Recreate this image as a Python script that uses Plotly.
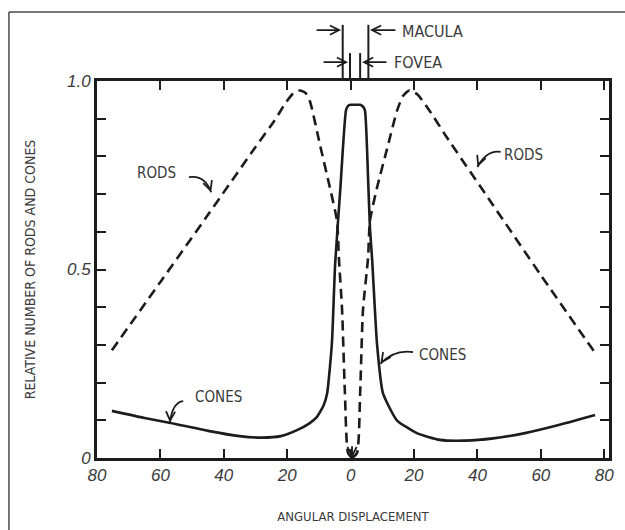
import plotly.graph_objects as go

# ---------------- data ----------------
rods_left_x = [-75.3, -60, -45, -30, -24, -20.5, -18, -16, -14.2, -12.8, -9.65, -6.5, -4.3, -3.7, -2.7, -1.8, -0.8, 0.45]
rods_left_y = [0.286, 0.467, 0.645, 0.825, 0.895, 0.942, 0.968, 0.975, 0.968, 0.945, 0.83, 0.716, 0.629, 0.531, 0.393, 0.172, 0.013, 0.0]

rods_right_x = [0.45, 2.0, 3.0, 3.9, 5.5, 6.1, 8.3, 11.8, 14.6, 16.5, 18.5, 21, 25, 30, 45, 60, 77.0]
rods_right_y = [0.0, 0.013, 0.172, 0.393, 0.531, 0.629, 0.716, 0.83, 0.92, 0.96, 0.975, 0.965, 0.92, 0.855, 0.67, 0.485, 0.28]

cones_x = [-75.3, -65, -56.8, -45, -35, -28, -22, -16.9, -13, -10.6, -8.5, -7.4, -5.9, -4.9, -3.2, -1.45,
           -0.8, 0.0, 1.5, 3.0, 3.8, 4.5, 5.5, 6.1, 6.8, 8.3, 10.2, 14.6, 20.9, 28.2, 36, 45, 55, 65, 77.1]
cones_y = [0.125, 0.106, 0.093, 0.072, 0.058, 0.054, 0.058, 0.074, 0.092, 0.109, 0.14, 0.172, 0.305, 0.512, 0.72, 0.923,
           0.934, 0.937, 0.937, 0.937, 0.933, 0.923, 0.743, 0.61, 0.525, 0.305, 0.172, 0.10, 0.066, 0.048, 0.046, 0.052, 0.066, 0.086, 0.114]

x_tick_vals = [-80, -60, -40, -20, 0, 20, 40, 60, 80]
x_tick_text = ["80", "60", "40", "20", "0", "20", "40", "60", "80"]
y_tick_vals = [0, 0.1, 0.2, 0.3, 0.4, 0.5, 0.6, 0.7, 0.8, 0.9, 1.0]
y_tick_text = ["0", "", "", "", "", "0.5", "", "", "", "", "1.0"]

macula_edges = [-2.5, 5.6]
fovea_edges = [-0.2, 3.0]

INK = "#1c1c1c"
TXT = "#3a3a3a"
HAND = "Liberation Sans Narrow, DejaVu Sans Condensed, Liberation Sans, sans-serif"

fig = go.Figure()
fig.add_trace(go.Scatter(x=rods_left_x, y=rods_left_y, mode="lines",
                         line=dict(color=INK, width=2.6, dash="10px,6px", shape="spline", smoothing=0.6),
                         hoverinfo="skip", showlegend=False))
fig.add_trace(go.Scatter(x=rods_right_x, y=rods_right_y, mode="lines",
                         line=dict(color=INK, width=2.6, dash="10px,6px", shape="spline", smoothing=0.6),
                         hoverinfo="skip", showlegend=False))
fig.add_trace(go.Scatter(x=cones_x, y=cones_y, mode="lines",
                         line=dict(color=INK, width=2.6, shape="spline", smoothing=0.5),
                         hoverinfo="skip", showlegend=False))

shapes = []
annots = []

# outer frame (left and top edges of the page box)
shapes.append(dict(type="line", xref="paper", yref="paper", x0=-0.172, x1=-0.172, y0=1.183, y1=-0.3,
                   line=dict(color="#4a4a4a", width=1.5)))
shapes.append(dict(type="line", xref="paper", yref="paper", x0=-0.172, x1=1.05, y0=1.183, y1=1.183,
                   line=dict(color="#4a4a4a", width=1.5)))

# macula / fovea markers above the plot
for xv in macula_edges:
    shapes.append(dict(type="line", xref="x", yref="paper", x0=xv, x1=xv, y0=1.0, y1=1.149,
                       line=dict(color=INK, width=2)))
for xv in fovea_edges:
    shapes.append(dict(type="line", xref="x", yref="paper", x0=xv, x1=xv, y0=1.0, y1=1.074,
                       line=dict(color=INK, width=2)))

def harrow(x_tip, x_tail, y):
    annots.append(dict(x=x_tip, y=y, xref="x", yref="paper", ax=x_tail, ay=0, axref="x", ayref="pixel",
                       text="", showarrow=True, arrowhead=5, arrowsize=1, arrowwidth=1.8,
                       arrowcolor=INK, standoff=0))

harrow(-3.0, -11.2, 1.135)
harrow(6.1, 14.6, 1.135)
harrow(-0.8, -9.0, 1.050)
harrow(3.6, 11.8, 1.050)

annots.append(dict(x=15.6, y=1.132, xref="x", yref="paper", text="MACULA", showarrow=False,
                   xanchor="left", yanchor="middle", font=dict(family=HAND, size=16, color=TXT)))
annots.append(dict(x=13.0, y=1.050, xref="x", yref="paper", text="FOVEA", showarrow=False,
                   xanchor="left", yanchor="middle", font=dict(family=HAND, size=16, color=TXT)))

# curved pointer arrows
def curved(p0, c, p1, tail):
    shapes.append(dict(type="path", xref="x", yref="y",
                       path=f"M {p0[0]},{p0[1]} Q {c[0]},{c[1]} {p1[0]},{p1[1]}",
                       line=dict(color=INK, width=1.8)))
    annots.append(dict(x=p1[0], y=p1[1], xref="x", yref="y", ax=tail[0], ay=tail[1], axref="x", ayref="y",
                       text="", showarrow=True, arrowhead=5, arrowsize=1, arrowwidth=1.8,
                       arrowcolor=INK, standoff=0))

def label(x, y, t):
    annots.append(dict(x=x, y=y, xref="x", yref="y", text=t, showarrow=False,
                       font=dict(family=HAND, size=15, color=TXT)))

label(-61.1, 0.756, "RODS")
curved((-51.0, 0.745), (-46.0, 0.752), (-44.0, 0.705), (-44.6, 0.72))
label(54.4, 0.804, "RODS")
curved((47.3, 0.812), (43.0, 0.818), (40.0, 0.772), (40.6, 0.785))
label(-41.8, 0.162, "CONES")
curved((-52.8, 0.151), (-56.2, 0.148), (-57.0, 0.094), (-56.9, 0.108))
label(29.1, 0.273, "CONES")
curved((19.7, 0.281), (13.6, 0.288), (9.4, 0.250), (10.4, 0.262))

# rods meeting at the bottom
annots.append(dict(x=0.45, y=0.0, xref="x", yref="y", ax=0.45, ay=0.035, axref="x", ayref="y",
                   text="", showarrow=True, arrowhead=5, arrowsize=1, arrowwidth=1.8,
                   arrowcolor=INK, standoff=0))

tickfont = dict(family="Liberation Sans, sans-serif", size=17, color=TXT, style="italic")

fig.update_layout(
    width=625, height=530, autosize=False,
    margin=dict(l=97, r=16, t=81, b=72),
    paper_bgcolor="white", plot_bgcolor="white",
    shapes=shapes, annotations=annots,
    xaxis=dict(range=[-80, 81.5], tickvals=x_tick_vals, ticktext=x_tick_text, ticks="inside",
               ticklen=9, tickwidth=2.2, tickcolor=INK, showline=True, linewidth=2.8, linecolor=INK,
               mirror="allticks", showgrid=False, zeroline=False, tickfont=tickfont, automargin=False,
               title=dict(text="ANGULAR DISPLACEMENT", font=dict(family=HAND, size=13, color=TXT), standoff=28)),
    yaxis=dict(range=[0, 1.0], tickvals=y_tick_vals, ticktext=y_tick_text, ticks="inside",
               ticklen=9, tickwidth=2.2, tickcolor=INK, showline=True, linewidth=2.8, linecolor=INK,
               mirror="allticks", showgrid=False, zeroline=False, tickfont=tickfont, automargin=False,
               title=dict(text="RELATIVE NUMBER OF RODS AND CONES", font=dict(family=HAND, size=14, color=TXT),
                          standoff=29)),
)

fig.write_html("out.html", config={"displayModeBar": False},
               post_script="document.body.style.margin='0';document.body.style.overflow='hidden';")
